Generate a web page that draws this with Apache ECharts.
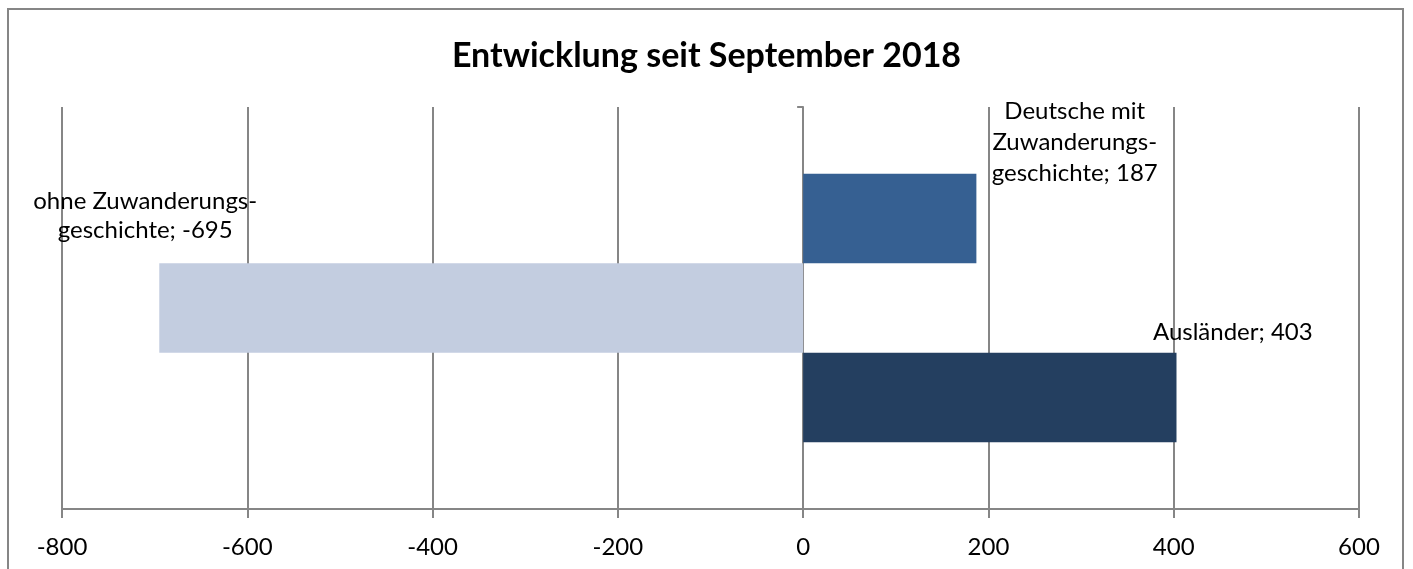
<!DOCTYPE html>
<html>
<head>
<meta charset="utf-8">
<script src="https://cdn.jsdelivr.net/npm/echarts@6/dist/echarts.min.js"></script>
<style>
  html, body { margin: 0; padding: 0; background: #fff; }
  #chart { width: 1413px; height: 569px; }
</style>
</head>
<body>
<div id="chart"></div>
<script>
// Daten
var categories = ['Entwicklung']
var seriesNames = ['Deutsche mit\nZuwanderungs-\ngeschichte', 'ohne Zuwanderungs-\ngeschichte', 'Ausländer']
var values = [187, -695, 403]
var barColors = ['#366092', '#c3cde0', '#243f60']
// label offsets (px) per series
var labelOffsets = [[185, 20], [-336, -13], [243, 0]]
var labelLineHeights = [31, 29, 30]

var chart = echarts.init(document.getElementById('chart'))
var fontFamily = 'Lato, "Open Sans", sans-serif'

var series = seriesNames.map(function(name, i) {
  return {
    name: name,
    type: 'bar',
    barGap: 0,
    barCategoryGap: '33.2%',
    itemStyle: { color: barColors[i] },
    label: {
      show: true,
      position: 'top',
      distance: 5,
      offset: labelOffsets[i],
      align: 'center',
      color: '#000',
      fontFamily: fontFamily,
      fontSize: 24,
      lineHeight: labelLineHeights[i],
      formatter: function(p) {
        return p.seriesName + '; ' + p.value
      }
    },
    data: [values[i]]
  }
})

chart.setOption({
  animation: false,
  title: {
    text: 'Entwicklung seit September 2018',
    left: 'center',
    top: 34,
    textStyle: {
      fontFamily: fontFamily,
      fontSize: 34,
      fontWeight: 'bold',
      color: '#000'
    }
  },
  graphic: [
    {
      type: 'rect',
      shape: { x: 8, y: 9, width: 1395, height: 580 },
      style: { fill: 'none', stroke: '#868686', lineWidth: 2 },
      silent: true
    }
  ],
  grid: { left: 62, right: 54, top: 107, bottom: 60, containLabel: false },
  xAxis: {
    type: 'value',
    min: -800,
    max: 600,
    interval: 200,
    axisLine: { show: true, lineStyle: { color: '#868686', width: 2 } },
    axisTick: { show: true, length: 9, lineStyle: { color: '#868686', width: 2 } },
    axisLabel: { color: '#000', fontFamily: fontFamily, fontSize: 24, margin: 26 },
    splitLine: { show: true, lineStyle: { color: '#868686', width: 2 } }
  },
  yAxis: {
    type: 'category',
    data: categories,
    axisLine: { show: true, onZero: true, lineStyle: { color: '#868686', width: 2 } },
    axisTick: { show: true, length: 6, lineStyle: { color: '#868686', width: 2 } },
    axisLabel: { show: false }
  },
  series: series
})
</script>
</body>
</html>
